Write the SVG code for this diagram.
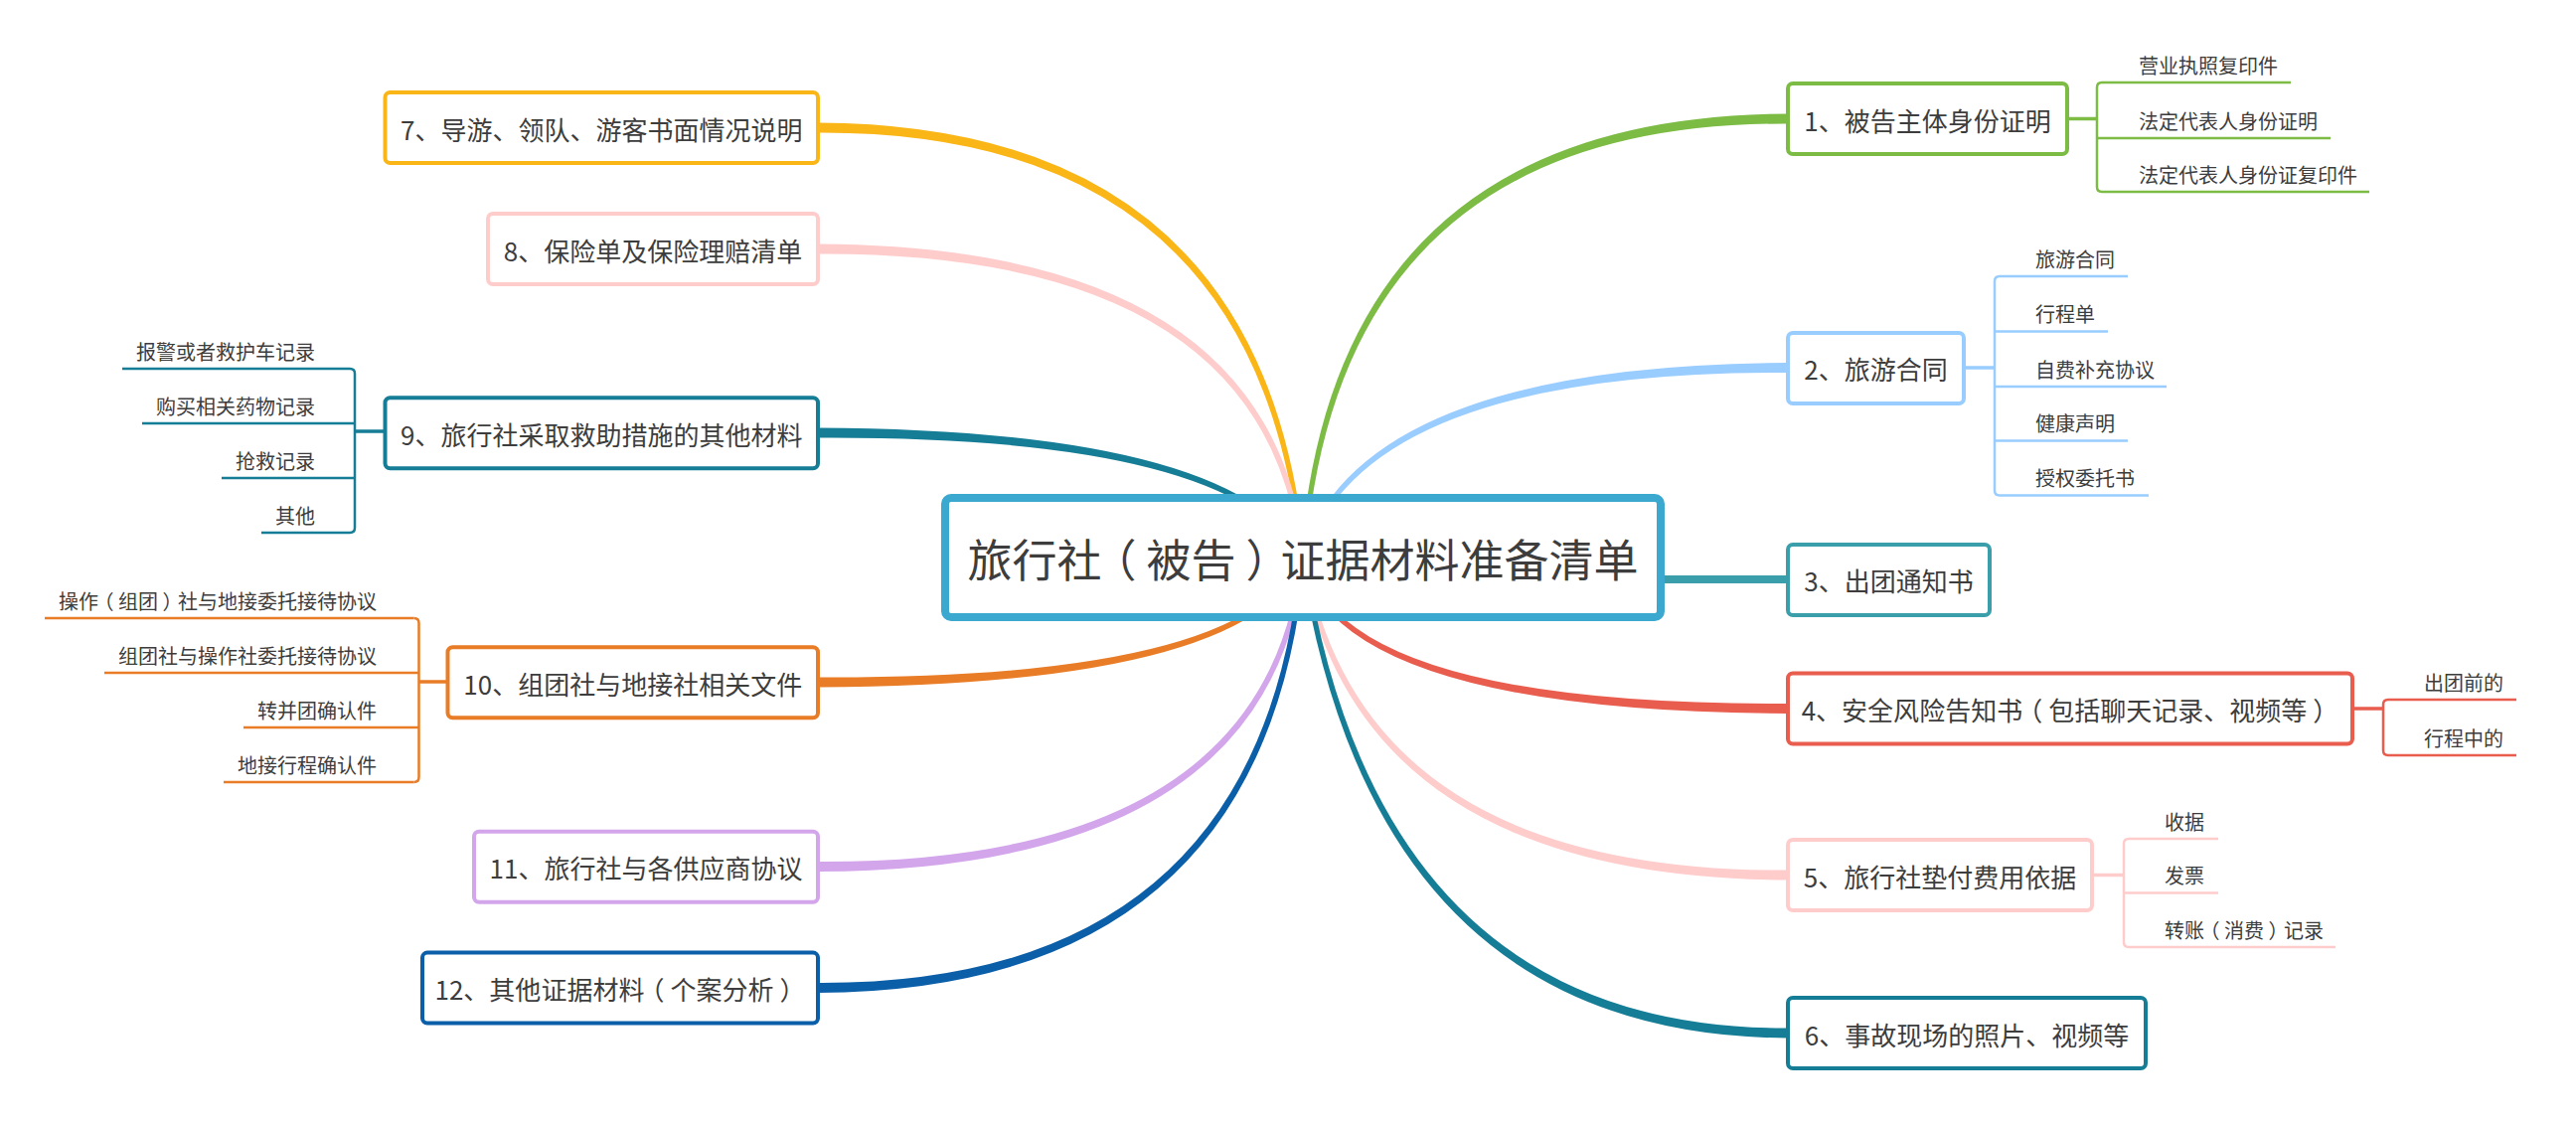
<svg xmlns="http://www.w3.org/2000/svg" width="2592" height="1129" viewBox="0 0 2592 1129">
<style>
text{font-family:"Noto Sans CJK SC","Noto Sans",sans-serif;fill:#3d3d3d}
.t0{font-size:45px;text-anchor:middle}
.t1{font-size:26px;text-anchor:middle}
.t2{font-size:20px}
.te{text-anchor:end}
.box{fill:#fff;stroke-width:4}
.stub{fill:none;stroke-width:3.5}
.br{fill:none;stroke-width:2.5}
.ul{stroke-width:2.5}
.green{stroke:#7cbb44}.lblue{stroke:#99ccff}.teal{stroke:#3a9fab}.red{stroke:#e95d4f}.pink{stroke:#ffcccc}.dteal{stroke:#167d96}.yellow{stroke:#fab516}.orange{stroke:#e97c26}.lav{stroke:#d3a6ec}.dblue{stroke:#0b5ea8}
</style>
<rect width="2592" height="1129" fill="#fff"/>
<g id="connectors">
<path d="M1313.5,561 Q1273,125.5 823,123.5 L823,133.5 Q1267,131.5 1308.5,561 Z" fill="#fab516"/>
<path d="M1313.5,561 Q1281,247.5 823,245.5 L823,255.5 Q1275,253.5 1308.5,561 Z" fill="#ffcccc"/>
<path d="M1313.5,561 Q1245,432.5 823,430.5 L823,440.5 Q1239,438.5 1308.5,561 Z" fill="#167d96"/>
<path d="M1313.5,561 Q1261,689.5 823,691.5 L823,681.5 Q1255,683.5 1308.5,561 Z" fill="#e97c26"/>
<path d="M1313.5,561 Q1281,875 823,877 L823,867 Q1275,869 1308.5,561 Z" fill="#d3a6ec"/>
<path d="M1313.5,561 Q1275,997 823,999 L823,989 Q1269,991 1308.5,561 Z" fill="#0b5ea8"/>
<path d="M1308.5,561 Q1342,116.5 1799,114.5 L1799,124.5 Q1348,122.5 1313.5,561 Z" fill="#7cbb44"/>
<path d="M1308.5,561 Q1367,367 1799,365 L1799,375 Q1373,373 1313.5,561 Z" fill="#99ccff"/>
<rect x="1670" y="579" width="130" height="8" fill="#3a9fab"/>
<path d="M1308.5,561 Q1342,716 1799,718 L1799,708 Q1348,710 1313.5,561 Z" fill="#e95d4f"/>
<path d="M1308.5,561 Q1364,883.5 1799,885.5 L1799,875.5 Q1370,877.5 1313.5,561 Z" fill="#ffcccc"/>
<path d="M1308.5,561 Q1382,1042.5 1799,1044.5 L1799,1034.5 Q1388,1036.5 1313.5,561 Z" fill="#167d96"/>
<line class="stub green" x1="2080" y1="119.5" x2="2110" y2="119.5"/>
<path class="br green" d="M2115,83 Q2110,83 2110,88 L2110,188 Q2110,193 2115,193"/>
<line class="stub lblue" x1="1976" y1="370" x2="2007" y2="370"/>
<path class="br lblue" d="M2012,278 Q2007,278 2007,283 L2007,493.5 Q2007,498.5 2012,498.5"/>
<line class="stub red" x1="2367" y1="713" x2="2398" y2="713"/>
<path class="br red" d="M2403,704 Q2398,704 2398,709 L2398,755 Q2398,760 2403,760"/>
<line class="stub pink" x1="2105" y1="880.5" x2="2137" y2="880.5"/>
<path class="br pink" d="M2142,844 Q2137,844 2137,849 L2137,948 Q2137,953 2142,953"/>
<line class="stub dteal" x1="388" y1="434" x2="357" y2="434"/>
<path class="br dteal" d="M352,371 Q357,371 357,376 L357,531 Q357,536 352,536"/>
<line class="stub orange" x1="451" y1="686" x2="421.5" y2="686"/>
<path class="br orange" d="M416.5,622 Q421.5,622 421.5,627 L421.5,782 Q421.5,787 416.5,787"/>
</g>
<g id="center">
<rect x="951" y="501" width="720" height="120" rx="6" fill="#fff" stroke="#3ba8cf" stroke-width="8"/>
<text class="t0" x="1311" y="581" dx="0 0 0 -10 10 0 10 -10">旅行社（被告）证据材料准备清单</text>
</g>
<g id="n1"><rect class="box green" x="1799" y="84" width="281" height="71" rx="5"/><text class="t1" x="1939.5" y="131.5">1、被告主体身份证明</text></g>
<g id="n1-1"><line class="ul green" x1="2115" y1="83" x2="2305" y2="83"/><text class="t2" x="2152" y="73.5">营业执照复印件</text></g>
<g id="n1-2"><line class="ul green" x1="2110" y1="139" x2="2345" y2="139"/><text class="t2" x="2152" y="129.5">法定代表人身份证明</text></g>
<g id="n1-3"><line class="ul green" x1="2115" y1="193" x2="2384" y2="193"/><text class="t2" x="2152" y="183.5">法定代表人身份证复印件</text></g>
<g id="n2"><rect class="box lblue" x="1799" y="335" width="177" height="71" rx="5"/><text class="t1" x="1887.5" y="382">2、旅游合同</text></g>
<g id="n2-1"><line class="ul lblue" x1="2012" y1="278" x2="2141" y2="278"/><text class="t2" x="2048" y="268.5">旅游合同</text></g>
<g id="n2-2"><line class="ul lblue" x1="2007" y1="333.5" x2="2121" y2="333.5"/><text class="t2" x="2048" y="324">行程单</text></g>
<g id="n2-3"><line class="ul lblue" x1="2007" y1="389" x2="2180" y2="389"/><text class="t2" x="2048" y="379.5">自费补充协议</text></g>
<g id="n2-4"><line class="ul lblue" x1="2007" y1="443.5" x2="2141" y2="443.5"/><text class="t2" x="2048" y="434">健康声明</text></g>
<g id="n2-5"><line class="ul lblue" x1="2012" y1="498.5" x2="2162" y2="498.5"/><text class="t2" x="2048" y="489">授权委托书</text></g>
<g id="n3"><rect class="box teal" x="1799" y="548" width="203" height="71" rx="5"/><text class="t1" x="1900.5" y="595">3、出团通知书</text></g>
<g id="n4"><rect class="box red" x="1799" y="677.5" width="568" height="71" rx="5"/><text class="t1" x="2083" y="725" dx="0 0 0 0 0 0 0 0 0 -6 6 0 0 0 0 0 0 0 0 0 6">4、安全风险告知书（包括聊天记录、视频等）</text></g>
<g id="n4-1"><line class="ul red" x1="2403" y1="704" x2="2532" y2="704"/><text class="t2" x="2439" y="694.5">出团前的</text></g>
<g id="n4-2"><line class="ul red" x1="2403" y1="760" x2="2532" y2="760"/><text class="t2" x="2439" y="750.5">行程中的</text></g>
<g id="n5"><rect class="box pink" x="1799" y="845" width="306" height="71" rx="5"/><text class="t1" x="1952" y="892.5">5、旅行社垫付费用依据</text></g>
<g id="n5-1"><line class="ul pink" x1="2142" y1="844" x2="2232" y2="844"/><text class="t2" x="2178" y="834.5">收据</text></g>
<g id="n5-2"><line class="ul pink" x1="2137" y1="898.5" x2="2232" y2="898.5"/><text class="t2" x="2178" y="889">发票</text></g>
<g id="n5-3"><line class="ul pink" x1="2142" y1="953" x2="2350" y2="953"/><text class="t2" x="2178" y="943.5" dx="0 0 -4.5 4.5 0 4.5 -4.5">转账（消费）记录</text></g>
<g id="n6"><rect class="box dteal" x="1799" y="1004" width="360" height="71" rx="5"/><text class="t1" x="1979" y="1051.5">6、事故现场的照片、视频等</text></g>
<g id="n7"><rect class="box yellow" x="387.5" y="93" width="435.5" height="71" rx="5"/><text class="t1" x="605.25" y="140.5">7、导游、领队、游客书面情况说明</text></g>
<g id="n8"><rect class="box pink" x="491" y="215" width="332" height="71" rx="5"/><text class="t1" x="657" y="262.5">8、保险单及保险理赔清单</text></g>
<g id="n9"><rect class="box dteal" x="387.5" y="400.3" width="435.5" height="71" rx="5"/><text class="t1" x="605.25" y="447.8">9、旅行社采取救助措施的其他材料</text></g>
<g id="n9-1"><line class="ul dteal" x1="123" y1="371" x2="352" y2="371"/><text class="t2 te" x="317" y="361.5">报警或者救护车记录</text></g>
<g id="n9-2"><line class="ul dteal" x1="143" y1="426" x2="357" y2="426"/><text class="t2 te" x="317" y="416.5">购买相关药物记录</text></g>
<g id="n9-3"><line class="ul dteal" x1="223" y1="481" x2="357" y2="481"/><text class="t2 te" x="317" y="471.5">抢救记录</text></g>
<g id="n9-4"><line class="ul dteal" x1="263" y1="536" x2="352" y2="536"/><text class="t2 te" x="317" y="526.5">其他</text></g>
<g id="n10"><rect class="box orange" x="450.5" y="651.3" width="372.5" height="71" rx="5"/><text class="t1" x="636.75" y="698.8">10、组团社与地接社相关文件</text></g>
<g id="n10-1"><line class="ul orange" x1="45" y1="622" x2="416.5" y2="622"/><text class="t2 te" x="379" y="612.5" dx="0 0 -4.5 4.5 0 4.5 -4.5">操作（组团）社与地接委托接待协议</text></g>
<g id="n10-2"><line class="ul orange" x1="105" y1="677" x2="421.5" y2="677"/><text class="t2 te" x="379" y="667.5">组团社与操作社委托接待协议</text></g>
<g id="n10-3"><line class="ul orange" x1="245" y1="732" x2="421.5" y2="732"/><text class="t2 te" x="379" y="722.5">转并团确认件</text></g>
<g id="n10-4"><line class="ul orange" x1="225" y1="787" x2="416.5" y2="787"/><text class="t2 te" x="379" y="777.5">地接行程确认件</text></g>
<g id="n11"><rect class="box lav" x="477" y="836.7" width="346" height="71" rx="5"/><text class="t1" x="650" y="884.2">11、旅行社与各供应商协议</text></g>
<g id="n12"><rect class="box dblue" x="425" y="958.6" width="398" height="71" rx="5"/><text class="t1" x="624" y="1006" dx="0 0 0 0 0 0 0 0 0 -6 6 0 0 0 6">12、其他证据材料（个案分析）</text></g>
</svg>
